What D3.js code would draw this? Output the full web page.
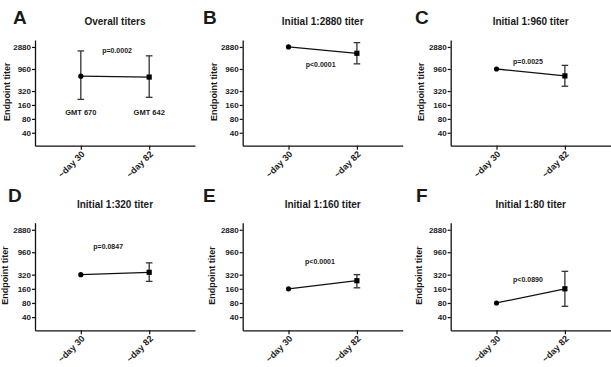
<!DOCTYPE html>
<html>
<head>
<meta charset="utf-8">
<script src="https://cdnjs.cloudflare.com/ajax/libs/d3/7.8.5/d3.min.js"></script>
<style>
  body { margin: 0; background: #fff; }
  text { font-family: Arial, "Liberation Sans", sans-serif; font-weight: bold; fill: #1a1a1a; }
</style>
</head>
<body>
<div id="chart"></div>
<script>
// data
var panelLetters = ["A", "B", "C", "D", "E", "F"];
var panelTitles  = ["Overall titers", "Initial 1:2880 titer", "Initial 1:960 titer",
                    "Initial 1:320 titer", "Initial 1:160 titer", "Initial 1:80 titer"];
var timepoints   = ["~day 30", "~day 82"];
var yTicks       = [40, 80, 160, 320, 960, 2880];

var day30Titer = [670, 2880, 960, 320, 160, 80];
var day30Lo    = [211, null, null, null, null, null];
var day30Hi    = [2360, null, null, null, null, null];
var day82Titer = [642, 2100, 680, 359, 238, 160];
var day82Lo    = [234, 1240, 407, 230, 168, 68];
var day82Hi    = [1850, 3570, 1150, 570, 320, 377];
var pValues    = ["p=0.0002", "p<0.0001", "p=0.0025", "p=0.0847", "p<0.0001", "p<0.0890"];
var gmtLabels  = ["GMT 670", "GMT 642"];

// where the p label sits: [fraction between the two days, titer]
var pLabelPos = [[0.53, 2370], [0.47, 1180], [0.46, 1360], [0.40, 1250], [0.46, 603], [0.46, 258]];

var W = 611, H = 367;
var colX = [0, 200, 405],
    axisLeft = [35, 42.7, 45.7],
    plotW = 160;
var rowTop = [40, 222.7],
    rowBottom = [145.7, 330.3];

var svg = d3.select("#chart").append("svg")
    .attr("width", W).attr("height", H);

panelLetters.forEach(function(letter, i) {
  var col = i % 3, row = Math.floor(i / 3);
  var x0 = colX[col] + axisLeft[col];

  var x = d3.scalePoint().domain(timepoints).range([0, plotW]).padding(0.67);
  var y = d3.scaleLog().domain([21, 4070]).range([rowBottom[row], rowTop[row]]);

  var g = svg.append("g").attr("transform", "translate(" + x0 + ",0)");

  // y axis
  var yAx = g.append("g")
    .call(d3.axisLeft(y).tickValues(yTicks).tickFormat(d3.format("d")).tickSize(3).tickSizeOuter(0));
  yAx.select(".domain").attr("stroke", "#111").attr("stroke-width", 1.3);
  yAx.selectAll(".tick line").attr("stroke", "#111").attr("stroke-width", 1.2);
  yAx.selectAll(".tick text").attr("x", -4).style("font-size", "8px")
    .style("font-family", "Arial, 'Liberation Sans', sans-serif").style("font-weight", "bold").attr("fill", "#1a1a1a");

  // x axis
  var xAx = g.append("g")
    .attr("transform", "translate(0," + rowBottom[row] + ")")
    .call(d3.axisBottom(x).tickSize(4).tickSizeOuter(0));
  xAx.select(".domain").attr("stroke", "#111").attr("stroke-width", 1.3);
  xAx.selectAll(".tick line").attr("stroke", "#111").attr("stroke-width", 1.2);
  xAx.selectAll(".tick text")
    .style("font-size", "9px").style("font-family", "Arial, 'Liberation Sans', sans-serif")
    .style("font-weight", "bold").attr("fill", "#1a1a1a")
    .style("text-anchor", "end")
    .attr("x", -3.5).attr("y", 6).attr("dy", "0.35em")
    .attr("transform", "rotate(-45)");

  // panel letter, title, y label
  svg.append("text")
    .attr("x", colX[col] + [13, 3, 10][col] - (row ? [5, 0, -1][col] : 0))
    .attr("y", row ? 202 : 24)
    .style("font-size", "19px")
    .text(letter);

  svg.append("text")
    .attr("x", x0 + plotW / 2)
    .attr("y", row ? 208 : 25)
    .attr("text-anchor", "middle")
    .style("font-size", "10px")
    .text(panelTitles[i]);

  svg.append("text")
    .attr("transform", "translate(" + (colX[col] + [10, 17, 19][col] - (row ? 2 : 0)) + "," + ((rowTop[row] + rowBottom[row]) / 2 - 1) + ") rotate(-90)")
    .attr("text-anchor", "middle")
    .style("font-size", "9px")
    .text("Endpoint titer");

  // connecting line
  var pts = [{t: timepoints[0], v: day30Titer[i]}, {t: timepoints[1], v: day82Titer[i]}];
  g.append("path")
    .datum(pts)
    .attr("fill", "none")
    .attr("stroke", "#111")
    .attr("stroke-width", 1.3)
    .attr("d", d3.line().x(function(d) { return x(d.t); }).y(function(d) { return y(d.v); }));

  // error bars
  var bars = [
    {t: timepoints[0], lo: day30Lo[i], hi: day30Hi[i]},
    {t: timepoints[1], lo: day82Lo[i], hi: day82Hi[i]}
  ].filter(function(d) { return d.lo != null; });

  bars.forEach(function(d) {
    var cx = x(d.t);
    g.append("line").attr("x1", cx).attr("x2", cx).attr("y1", y(d.lo)).attr("y2", y(d.hi))
      .attr("stroke", "#333").attr("stroke-width", 1.3);
    [d.lo, d.hi].forEach(function(v) {
      g.append("line").attr("x1", cx - 3.3).attr("x2", cx + 3.3).attr("y1", y(v)).attr("y2", y(v))
        .attr("stroke", "#333").attr("stroke-width", 1.3);
    });
  });

  // markers: circle for day 30, square for day 82
  g.append("circle")
    .attr("cx", x(timepoints[0])).attr("cy", y(day30Titer[i])).attr("r", 2.6)
    .attr("fill", "#000");
  g.append("rect")
    .attr("x", x(timepoints[1]) - 2.6).attr("y", y(day82Titer[i]) - 2.6)
    .attr("width", 5.2).attr("height", 5.2)
    .attr("fill", "#000");

  // p value
  var pp = pLabelPos[i];
  g.append("text")
    .attr("x", x(timepoints[0]) + pp[0] * (x(timepoints[1]) - x(timepoints[0])))
    .attr("y", y(pp[1]))
    .attr("dy", "0.35em")
    .attr("text-anchor", "middle")
    .style("font-size", "7px")
    .text(pValues[i]);

  if (i === 0) {
    timepoints.forEach(function(t, k) {
      g.append("text")
        .attr("x", x(t)).attr("y", y(113))
        .attr("dy", "0.35em")
        .attr("text-anchor", "middle")
        .style("font-size", "7.5px")
        .text(gmtLabels[k]);
    });
  }
});
</script>
</body>
</html>
